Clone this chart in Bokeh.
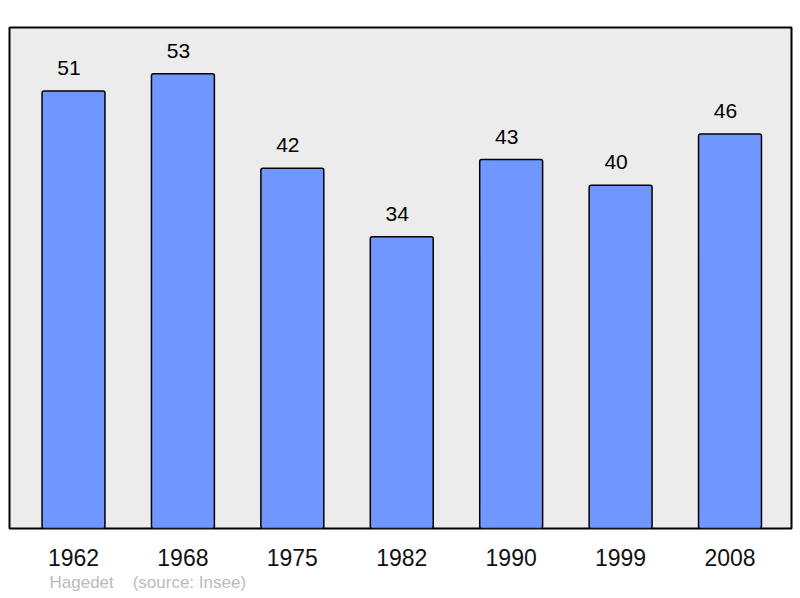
from bokeh.plotting import figure
from bokeh.models import ColumnDataSource, Range1d, Title, FixedTicker
from bokeh.core.properties import value
from bokeh.embed import file_html
from bokeh.resources import INLINE

years = ["1962", "1968", "1975", "1982", "1990", "1999", "2008"]
population = [51, 53, 42, 34, 43, 40, 46]
author = "Hagedet"
source_note = "(source: Insee)"

xs = list(range(len(years)))
src = ColumnDataSource(dict(x=xs, top=population, lab=[str(v) for v in population]))

p = figure(width=800, height=598, output_backend="svg", toolbar_location=None,
           x_range=Range1d(-0.585, 6.562), y_range=Range1d(0, 58.4),
           min_border_left=9, min_border_right=9, min_border_top=27, min_border_bottom=70)
p.background_fill_color = "#ececec"
p.border_fill_color = "white"
p.outline_line_color = "black"
p.outline_line_width = 2
p.grid.visible = False
p.yaxis.visible = False

p.vbar(x="x", top="top", bottom=0, width=0.575, source=src,
       fill_color="#7096ff", line_color="black", line_width=1.5, border_radius=2)
p.text(x="x", y="top", text="lab", source=src, text_align="center", text_baseline="middle",
       x_offset=-4.5, y_offset=-23, text_font=value("Liberation Sans"),
       text_font_size="21px", text_color="black")

ax = p.xaxis[0]
ax.ticker = FixedTicker(ticks=xs)
ax.major_label_overrides = {i: y for i, y in zip(xs, years)}
ax.axis_line_color = None
ax.major_tick_line_color = None
ax.minor_tick_line_color = None
ax.major_label_standoff = 14
ax.major_label_text_font = "Liberation Sans"
ax.major_label_text_font_size = "23px"
ax.major_label_text_color = "#111111"

footer = Title(text=author + "\u00a0\u00a0\u00a0\u00a0" + source_note, align="left", offset=40,
               text_font="Liberation Sans", text_font_size="17px", text_font_style="normal",
               text_color="#bbbbbb", standoff=4)
p.add_layout(footer, "below")

open("out.html", "w").write(file_html(p, INLINE))
